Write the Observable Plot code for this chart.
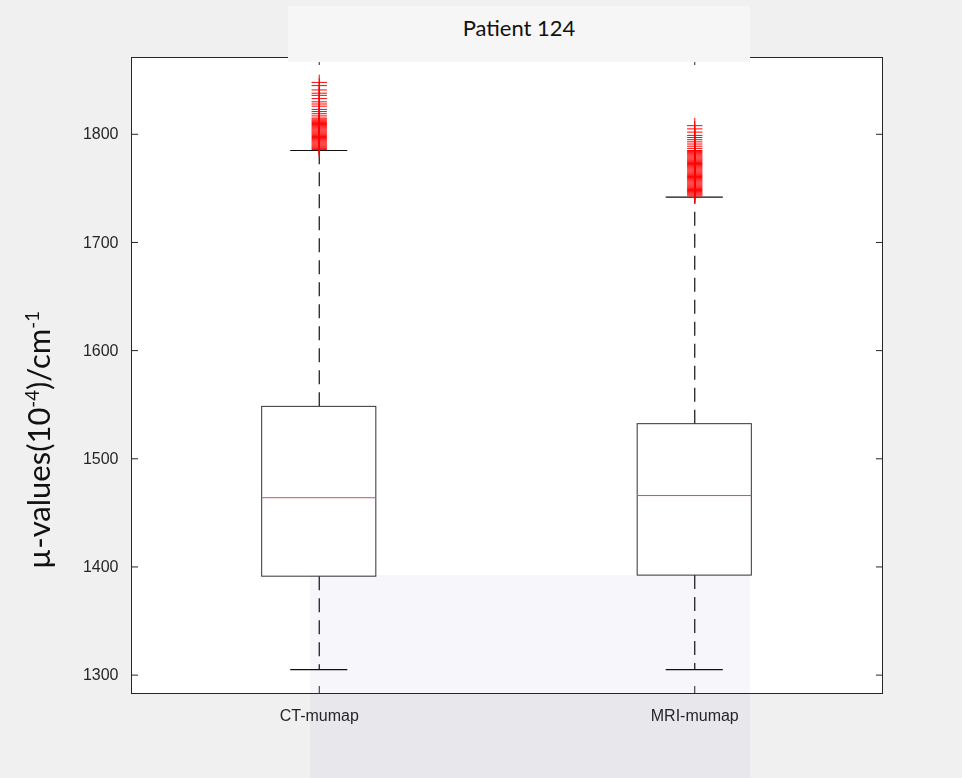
<!DOCTYPE html>
<html>
<head>
<meta charset="utf-8">
<script src="https://cdn.jsdelivr.net/npm/d3@7"></script>
<script src="https://cdn.jsdelivr.net/npm/@observablehq/plot@0.6"></script>
<style>
  html, body { margin: 0; padding: 0; background: #f0f0f0; }
  #wrap { position: relative; width: 962px; height: 778px; overflow: hidden; background: #f0f0f0; }
  #chart { position: absolute; left: 0; top: 0; }
  #title { position: absolute; left: 288px; top: 6px; width: 462px; height: 56px; background: #f6f6f6;
           font-family: Lato, "Open Sans", sans-serif; font-size: 22px; color: #111; text-align: center; line-height: 44px; }
  #ylabel { position: absolute; left: 38px; top: 440px; transform: translate(-50%, -50%) rotate(-90deg);
            white-space: nowrap; font-family: Lato, "Open Sans", sans-serif; font-size: 31px; color: #111; }
  #ylabel sup { font-size: 60%; vertical-align: 0.6em; line-height: 0; }
  #wm { position: absolute; left: 310px; top: 575px; width: 440px; height: 203px;
        background: rgba(222, 218, 240, 0.25); mix-blend-mode: multiply; pointer-events: none; }
</style>
</head>
<body>
<div id="wrap">
  <div id="chart"></div>
  <div id="wm"></div>
  <div id="title">Patient 124</div>
  <div id="ylabel">µ-values(10<sup>-4</sup>)/cm<sup>-1</sup></div>
</div>
<script>
// ---- data ----
const categories = ["CT-mumap", "MRI-mumap"];
const positions = [1, 2];
const q1 = [1391, 1392];
const median = [1464, 1466];
const q3 = [1548, 1532];
const whiskerLow = [1305, 1305];
const whiskerHigh = [1785, 1742];
const ctOutliers = [1786, 1787, 1788, 1789, 1790, 1791, 1792, 1793, 1794, 1795, 1796, 1797, 1798, 1799, 1800,
  1801, 1802, 1803, 1804, 1805, 1806, 1807, 1808, 1809, 1810, 1811, 1812, 1813, 1814, 1815,
  1817, 1819, 1821, 1823, 1826, 1828, 1830, 1833, 1836, 1838, 1841, 1845, 1848];
const mriOutliers = [1743, 1744, 1745, 1746, 1747, 1748, 1749, 1750, 1751, 1752, 1753, 1754, 1755, 1756, 1757,
  1758, 1759, 1760, 1761, 1762, 1763, 1764, 1765, 1766, 1767, 1768, 1769, 1770, 1771, 1772,
  1773, 1774, 1775, 1776, 1777, 1778, 1779, 1780, 1781, 1782, 1783, 1784, 1785,
  1787, 1789, 1791, 1793, 1795, 1797, 1799, 1802, 1805, 1808];
const yTicks = [1300, 1400, 1500, 1600, 1700, 1800];

// ---- tables built from the arrays ----
const boxes = categories.map((c, i) => ({
  c, pos: positions[i], q1: q1[i], med: median[i], q3: q3[i], lo: whiskerLow[i], hi: whiskerHigh[i]
}));
const outliers = [
  ...ctOutliers.map(v => ({ pos: positions[0], v })),
  ...mriOutliers.map(v => ({ pos: positions[1], v }))
];

const boxHalf = 0.152;   // box half-width (x units)
const capHalf = 0.076;   // whisker cap half-width
const dash = "14,8";
const xFmt = d => categories[positions.indexOf(d)];
const yFmt = d => String(d);

const chart = Plot.plot({
  width: 962,
  height: 778,
  marginLeft: 131,
  marginRight: 80,
  marginTop: 57,
  marginBottom: 85,
  style: { background: "transparent", fontFamily: "'Liberation Sans', Arial, sans-serif", fontSize: "16px", color: "#262626" },
  x: { domain: [0.5, 2.5], label: null },
  y: { domain: [1283, 1871], label: null },
  marks: [
    Plot.frame({ fill: "white", stroke: "none" }),
    Plot.ruleX(boxes, { x: "pos", y1: "q3", y2: "hi", stroke: "#111", strokeWidth: 1.2, strokeDasharray: dash }),
    Plot.ruleX(boxes, { x: "pos", y1: "q1", y2: "lo", stroke: "#111", strokeWidth: 1.2, strokeDasharray: dash }),
    Plot.ruleY(boxes, { y: "hi", x1: d => d.pos - capHalf, x2: d => d.pos + capHalf, stroke: "#111", strokeWidth: 1.2 }),
    Plot.ruleY(boxes, { y: "lo", x1: d => d.pos - capHalf, x2: d => d.pos + capHalf, stroke: "#111", strokeWidth: 1.2 }),
    Plot.rect(boxes, { x1: d => d.pos - boxHalf, x2: d => d.pos + boxHalf, y1: "q1", y2: "q3", fill: "none", stroke: "#333", strokeWidth: 1 }),
    Plot.ruleY(boxes, { y: "med", x1: d => d.pos - boxHalf, x2: d => d.pos + boxHalf, stroke: "#d05050", strokeWidth: 1 }),
    Plot.dot(outliers, { x: "pos", y: "v", symbol: "plus", r: 5, stroke: "#ff0000", strokeWidth: 1 }),
    Plot.axisY(yTicks, { anchor: "left", tickSize: -7, tickPadding: 20, tickFormat: yFmt, label: null }),
    Plot.axisY(yTicks, { anchor: "right", tickSize: -7, tickFormat: () => "", label: null }),
    Plot.axisX(positions, { anchor: "bottom", tickSize: -7, tickPadding: 23, tickFormat: xFmt, label: null }),
    Plot.axisX(positions, { anchor: "top", tickSize: -7, tickFormat: () => "", label: null }),
    Plot.frame({ stroke: "#262626", strokeWidth: 1 })
  ]
});
document.getElementById("chart").appendChild(chart);
</script>
</body>
</html>
